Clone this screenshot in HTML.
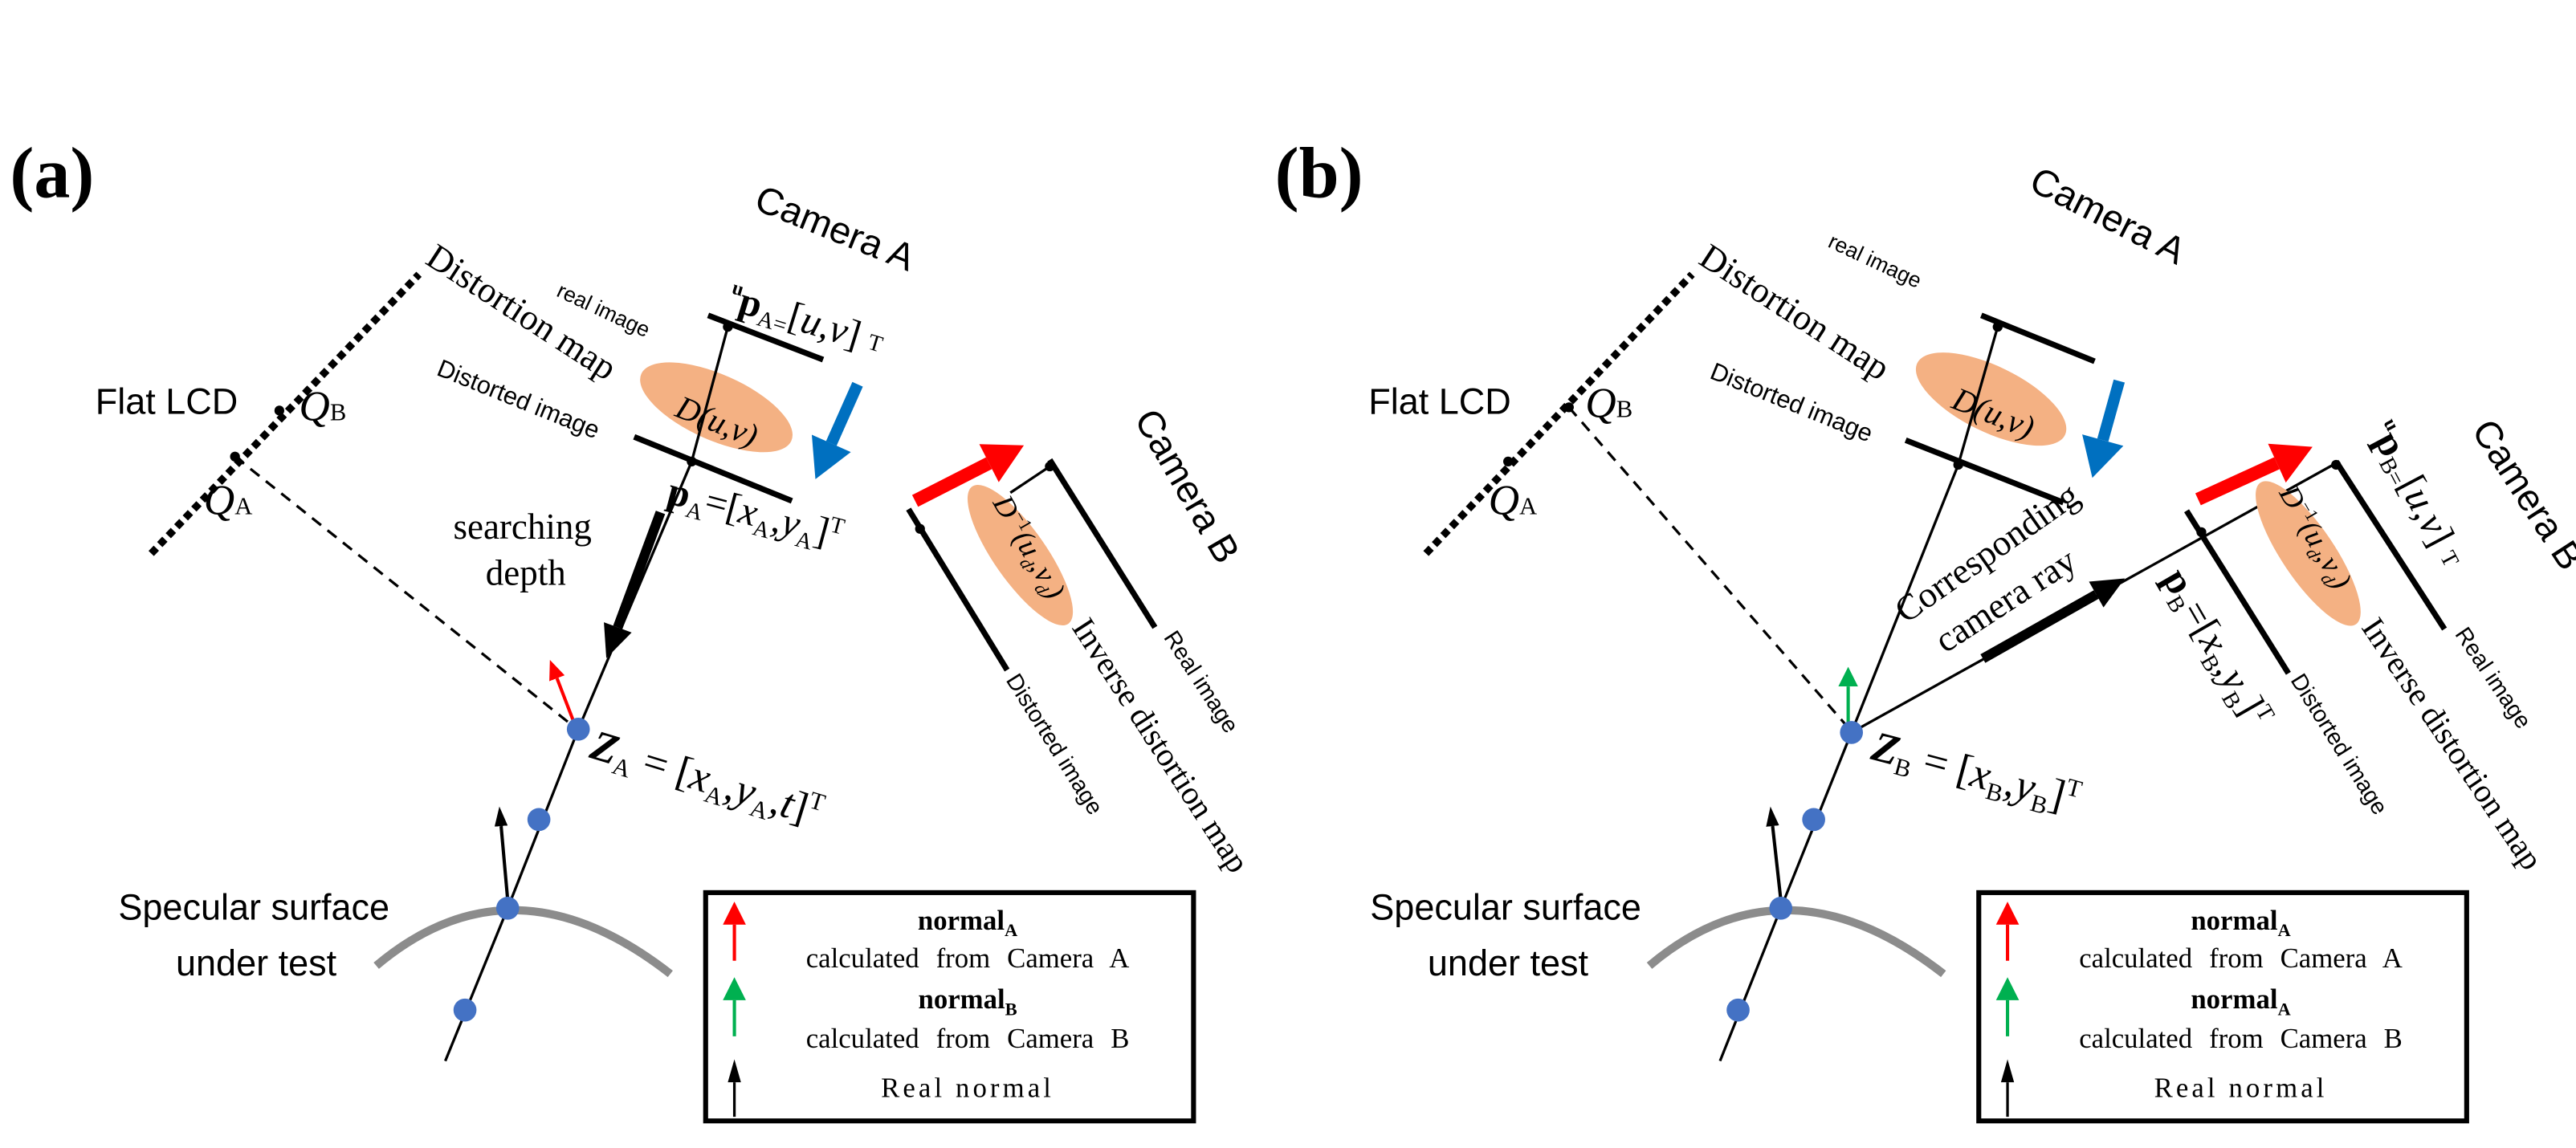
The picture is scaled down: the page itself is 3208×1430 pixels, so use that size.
<!DOCTYPE html>
<html><head><meta charset="utf-8"><style>
html,body{margin:0;padding:0;background:#fff;}
svg{display:block;}
.sans{font-family:"Liberation Sans",sans-serif;}
.serif{font-family:"Liberation Serif",serif;}
</style></head><body>
<svg width="3208" height="1430" viewBox="0 0 1568 699" xmlns="http://www.w3.org/2000/svg">
<defs>
<marker id="mBlue" markerUnits="userSpaceOnUse" markerWidth="26" markerHeight="26" refX="0" refY="12" orient="auto" viewBox="0 0 22 24"><path d="M0,0 L22,12 L0,24z" fill="#0070C0"/></marker>
<marker id="mRed" markerUnits="userSpaceOnUse" markerWidth="26" markerHeight="26" refX="0" refY="12" orient="auto" viewBox="0 0 22 24"><path d="M0,0 L22,12 L0,24z" fill="#FF0000"/></marker>
<marker id="mBlk" markerUnits="userSpaceOnUse" markerWidth="22" markerHeight="18" refX="0" refY="9" orient="auto" viewBox="0 0 20 18"><path d="M0,0 L20,9 L0,18z" fill="#000"/></marker>
<marker id="mRedS" markerUnits="userSpaceOnUse" markerWidth="12" markerHeight="10" refX="0" refY="5" orient="auto" viewBox="0 0 12 10"><path d="M0,0 L12,5 L0,10z" fill="#FF0000"/></marker>
<marker id="mGrnS" markerUnits="userSpaceOnUse" markerWidth="12" markerHeight="12" refX="0" refY="6" orient="auto" viewBox="0 0 12 12"><path d="M0,0 L12,6 L0,12z" fill="#00B050"/></marker>
<marker id="mBlkS" markerUnits="userSpaceOnUse" markerWidth="12" markerHeight="8" refX="0" refY="4" orient="auto" viewBox="0 0 12 8"><path d="M0,0 L12,4 L0,8z" fill="#000"/></marker>
</defs>

<!-- ===================== PANEL (a) ===================== -->
<text x="6" y="120" class="serif" font-size="44" font-weight="bold">(a)</text>

<line x1="92" y1="337" x2="255" y2="167" stroke="#000" stroke-width="4.5" stroke-dasharray="4.5,3"/>
<text x="58" y="252" class="sans" font-size="22">Flat LCD</text>
<circle cx="170" cy="250" r="3" fill="#000"/>
<text x="182" y="256" class="serif" font-size="26" font-style="italic">Q<tspan font-size="15" font-style="normal">B</tspan></text>
<circle cx="143" cy="278" r="3" fill="#000"/>
<text x="124" y="313" class="serif" font-size="26" font-style="italic">Q<tspan font-size="15" font-style="normal">A</tspan></text>
<line x1="143" y1="278" x2="350" y2="443" stroke="#000" stroke-width="1.6" stroke-dasharray="7,5"/>

<text transform="translate(458,127) rotate(22)" class="sans" font-size="23">Camera A</text>
<text transform="translate(338,180) rotate(25)" class="sans" font-size="13">real image</text>
<text transform="translate(258,160) rotate(33)" class="serif" font-size="22">Distortion map</text>
<text transform="translate(265,228) rotate(22)" class="sans" font-size="15">Distorted image</text>
<line x1="431" y1="192" x2="501" y2="219" stroke="#000" stroke-width="3.5"/>
<line x1="386" y1="266" x2="482" y2="305" stroke="#000" stroke-width="3.5"/>
<ellipse cx="436" cy="248" rx="50" ry="20" transform="rotate(24 436 248)" fill="#F4B183"/>
<polyline points="443,199 421,281 352,444 309,553 271,646" fill="none" stroke="#000" stroke-width="1.6"/>
<circle cx="443" cy="199" r="3" fill="#000"/>
<circle cx="421" cy="281" r="3" fill="#000"/>
<text transform="translate(410,253) rotate(22)" class="serif" font-size="20" font-style="italic">D(u,v)</text>
<text transform="translate(442,188) rotate(17)" class="serif" font-size="24"><tspan font-weight="bold" font-size="12" dy="-10">u</tspan><tspan font-weight="bold" dy="10">p</tspan><tspan font-size="14" dy="4">A=</tspan><tspan dy="-4">[</tspan><tspan font-style="italic">u,v</tspan>] <tspan font-size="14" dy="-2">T</tspan></text>
<text transform="translate(405,306) rotate(15)" class="serif" font-size="24"><tspan font-weight="bold">p</tspan><tspan font-size="14" dy="5">A</tspan><tspan dy="-5">=[</tspan><tspan font-style="italic">x</tspan><tspan font-size="14" dy="5">A</tspan><tspan dy="-5">,</tspan><tspan font-style="italic">y</tspan><tspan font-size="14" dy="5">A</tspan><tspan dy="-5">]</tspan><tspan font-size="14" dy="-9">T</tspan></text>
<line x1="522" y1="234" x2="506" y2="270" stroke="#0070C0" stroke-width="7" marker-end="url(#mBlue)"/>

<text x="318" y="328" class="serif" font-size="22" text-anchor="middle">searching</text>
<text x="320" y="356" class="serif" font-size="22" text-anchor="middle">depth</text>
<line x1="402" y1="312" x2="376" y2="382" stroke="#000" stroke-width="6" marker-end="url(#mBlk)"/>

<line x1="349" y1="439" x2="339" y2="413" stroke="#FF0000" stroke-width="2" marker-end="url(#mRedS)"/>
<line x1="309" y1="548" x2="305" y2="503" stroke="#000" stroke-width="2" marker-end="url(#mBlkS)"/>
<path d="M229,588 Q312,518 408,593" fill="none" stroke="#8c8c8c" stroke-width="5"/>
<circle cx="352" cy="444" r="7" fill="#4472C4"/>
<circle cx="328" cy="499" r="7" fill="#4472C4"/>
<circle cx="309" cy="553" r="7" fill="#4472C4"/>
<circle cx="283" cy="615" r="7" fill="#4472C4"/>
<text transform="translate(358,461) rotate(17)" class="serif" font-size="26"><tspan font-weight="bold" font-style="italic">Z</tspan><tspan font-size="15" dy="5">A</tspan><tspan dy="-5"> = [</tspan><tspan font-style="italic">x</tspan><tspan font-size="15" dy="5">A</tspan><tspan dy="-5">,</tspan><tspan font-style="italic">y</tspan><tspan font-size="15" dy="5">A</tspan><tspan dy="-5">,</tspan><tspan font-style="italic">t</tspan>]<tspan font-size="15" dy="-10">T</tspan></text>
<text x="72" y="560" class="sans" font-size="22">Specular surface</text>
<text x="107" y="594" class="sans" font-size="22">under test</text>

<line x1="553" y1="310" x2="613" y2="408" stroke="#000" stroke-width="3.5"/>
<line x1="639" y1="280" x2="703" y2="382" stroke="#000" stroke-width="3.5"/>
<ellipse cx="621" cy="338" rx="51" ry="16" transform="rotate(55 621 338)" fill="#F4B183"/>
<line x1="615" y1="300" x2="639" y2="284" stroke="#000" stroke-width="1.6"/>
<circle cx="639" cy="284" r="3" fill="#000"/>
<circle cx="560" cy="322" r="3" fill="#000"/>
<line x1="557" y1="305" x2="602" y2="282" stroke="#FF0000" stroke-width="8" marker-end="url(#mRed)"/>
<text transform="translate(604,306) rotate(60)" class="serif" font-size="18" font-style="italic">D<tspan font-size="11" dy="-7" font-style="normal">−1</tspan><tspan dy="7">(u</tspan><tspan font-size="11" dy="4">d</tspan><tspan dy="-4">,v</tspan><tspan font-size="11" dy="4">d</tspan><tspan dy="-4">)</tspan></text>
<text transform="translate(690,255) rotate(60)" class="sans" font-size="23">Camera B</text>
<text transform="translate(652,382) rotate(57)" class="serif" font-size="20">Inverse distortion map</text>
<text transform="translate(708,388) rotate(57)" class="sans" font-size="14">Real image</text>
<text transform="translate(612,414) rotate(58)" class="sans" font-size="14">Distorted image</text>

<rect x="429.5" y="543.5" width="297" height="139" fill="#fff" stroke="#000" stroke-width="3"/>
<line x1="447" y1="585" x2="447" y2="563" stroke="#FF0000" stroke-width="2"/>
<path d="M440,563 L447,549 L454,563z" fill="#FF0000"/>
<line x1="447" y1="631" x2="447" y2="609" stroke="#00B050" stroke-width="2"/>
<path d="M440,609 L447,595 L454,609z" fill="#00B050"/>
<line x1="447" y1="680" x2="447" y2="659" stroke="#000" stroke-width="1.6"/>
<path d="M443,659 L447,645 L451,659z" fill="#000"/>
<text x="589" y="566" class="serif" font-size="17" font-weight="bold" text-anchor="middle">normal<tspan font-size="11" dy="4">A</tspan></text>
<text x="589" y="589" class="serif" font-size="17" text-anchor="middle" word-spacing="6">calculated from Camera A</text>
<text x="589" y="614" class="serif" font-size="17" font-weight="bold" text-anchor="middle">normal<tspan font-size="11" dy="4">B</tspan></text>
<text x="589" y="638" class="serif" font-size="17" text-anchor="middle" word-spacing="6">calculated from Camera B</text>
<text x="589" y="668" class="serif" font-size="17" text-anchor="middle" letter-spacing="2">Real normal</text>

<!-- ===================== PANEL (b) ===================== -->
<text x="776" y="120" class="serif" font-size="44" font-weight="bold">(b)</text>

<line x1="868" y1="337" x2="1030" y2="167" stroke="#000" stroke-width="4.5" stroke-dasharray="4.5,3"/>
<text x="833" y="252" class="sans" font-size="22">Flat LCD</text>
<circle cx="955" cy="248" r="3" fill="#000"/>
<text x="965" y="254" class="serif" font-size="26" font-style="italic">Q<tspan font-size="15" font-style="normal">B</tspan></text>
<circle cx="918" cy="281" r="3" fill="#000"/>
<text x="906" y="313" class="serif" font-size="26" font-style="italic">Q<tspan font-size="15" font-style="normal">A</tspan></text>
<line x1="955" y1="248" x2="1125" y2="443" stroke="#000" stroke-width="1.6" stroke-dasharray="7,5"/>

<text transform="translate(1234,115) rotate(27)" class="sans" font-size="23">Camera A</text>
<text transform="translate(1112,150) rotate(25)" class="sans" font-size="13">real image</text>
<text transform="translate(1033,160) rotate(33)" class="serif" font-size="22">Distortion map</text>
<text transform="translate(1040,230) rotate(22)" class="sans" font-size="15">Distorted image</text>
<line x1="1206" y1="192" x2="1275" y2="220" stroke="#000" stroke-width="3.5"/>
<line x1="1160" y1="268" x2="1256" y2="306" stroke="#000" stroke-width="3.5"/>
<ellipse cx="1212" cy="243" rx="50" ry="20" transform="rotate(26 1212 243)" fill="#F4B183"/>
<polyline points="1216,199 1192,283 1127,446 1084,553 1047,646" fill="none" stroke="#000" stroke-width="1.6"/>
<circle cx="1216" cy="199" r="3" fill="#000"/>
<circle cx="1192" cy="283" r="3" fill="#000"/>
<text transform="translate(1187,248) rotate(22)" class="serif" font-size="20" font-style="italic">D(u,v)</text>
<line x1="1290" y1="232" x2="1280" y2="268" stroke="#0070C0" stroke-width="7" marker-end="url(#mBlue)"/>

<text transform="translate(1160,380) rotate(-35)" class="serif" font-size="22">Corresponding</text>
<text transform="translate(1184,398) rotate(-33)" class="serif" font-size="22">camera ray</text>

<line x1="1127" y1="446" x2="1422" y2="282" stroke="#000" stroke-width="1.6"/>
<line x1="1207" y1="401" x2="1276" y2="362" stroke="#000" stroke-width="6" marker-end="url(#mBlk)"/>
<line x1="1125" y1="440" x2="1125" y2="418" stroke="#00B050" stroke-width="2" marker-end="url(#mGrnS)"/>
<line x1="1084" y1="548" x2="1079" y2="503" stroke="#000" stroke-width="2" marker-end="url(#mBlkS)"/>
<path d="M1004,588 Q1087,518 1183,593" fill="none" stroke="#8c8c8c" stroke-width="5"/>
<circle cx="1127" cy="446" r="7" fill="#4472C4"/>
<circle cx="1104" cy="499" r="7" fill="#4472C4"/>
<circle cx="1084" cy="553" r="7" fill="#4472C4"/>
<circle cx="1058" cy="615" r="7" fill="#4472C4"/>
<text transform="translate(1138,462) rotate(15)" class="serif" font-size="26"><tspan font-weight="bold" font-style="italic">Z</tspan><tspan font-size="15" dy="5">B</tspan><tspan dy="-5"> = [</tspan><tspan font-style="italic">x</tspan><tspan font-size="15" dy="5">B</tspan><tspan dy="-5">,</tspan><tspan font-style="italic">y</tspan><tspan font-size="15" dy="5">B</tspan><tspan dy="-5">]</tspan><tspan font-size="15" dy="-10">T</tspan></text>
<text x="834" y="560" class="sans" font-size="22">Specular surface</text>
<text x="869" y="594" class="sans" font-size="22">under test</text>

<line x1="1331" y1="311" x2="1393" y2="410" stroke="#000" stroke-width="3.5"/>
<line x1="1422" y1="281" x2="1488" y2="383" stroke="#000" stroke-width="3.5"/>
<ellipse cx="1405" cy="337" rx="52" ry="16" transform="rotate(56 1405 337)" fill="#F4B183"/>
<circle cx="1422" cy="283" r="3" fill="#000"/>
<circle cx="1340" cy="324" r="3" fill="#000"/>
<line x1="1338" y1="304" x2="1386" y2="282" stroke="#FF0000" stroke-width="8" marker-end="url(#mRed)"/>
<text transform="translate(1387,300) rotate(60)" class="serif" font-size="18" font-style="italic">D<tspan font-size="11" dy="-7" font-style="normal">−1</tspan><tspan dy="7">(u</tspan><tspan font-size="11" dy="4">d</tspan><tspan dy="-4">,v</tspan><tspan font-size="11" dy="4">d</tspan><tspan dy="-4">)</tspan></text>
<text transform="translate(1442,262) rotate(62)" class="serif" font-size="24"><tspan font-weight="bold" font-size="12" dy="-10">u</tspan><tspan font-weight="bold" dy="10">p</tspan><tspan font-size="14" dy="4">B=</tspan><tspan dy="-4">[</tspan><tspan font-style="italic">u,v</tspan>] <tspan font-size="14" dy="-2">T</tspan></text>
<text transform="translate(1316,352) rotate(60)" class="serif" font-size="24"><tspan font-weight="bold">p</tspan><tspan font-size="14" dy="5">B</tspan><tspan dy="-5">=[</tspan><tspan font-style="italic">x</tspan><tspan font-size="14" dy="5">B</tspan><tspan dy="-5">,</tspan><tspan font-style="italic">y</tspan><tspan font-size="14" dy="5">B</tspan><tspan dy="-5">]</tspan><tspan font-size="14" dy="-9">T</tspan></text>
<text transform="translate(1504,262) rotate(57)" class="sans" font-size="23">Camera B</text>
<text transform="translate(1437,382) rotate(56)" class="serif" font-size="20">Inverse distortion map</text>
<text transform="translate(1494,386) rotate(56)" class="sans" font-size="14">Real image</text>
<text transform="translate(1394,414) rotate(58)" class="sans" font-size="14">Distorted image</text>

<rect x="1204.5" y="543.5" width="297" height="139" fill="#fff" stroke="#000" stroke-width="3"/>
<line x1="1222" y1="585" x2="1222" y2="563" stroke="#FF0000" stroke-width="2"/>
<path d="M1215,563 L1222,549 L1229,563z" fill="#FF0000"/>
<line x1="1222" y1="631" x2="1222" y2="609" stroke="#00B050" stroke-width="2"/>
<path d="M1215,609 L1222,595 L1229,609z" fill="#00B050"/>
<line x1="1222" y1="680" x2="1222" y2="659" stroke="#000" stroke-width="1.6"/>
<path d="M1218,659 L1222,645 L1226,659z" fill="#000"/>
<text x="1364" y="566" class="serif" font-size="17" font-weight="bold" text-anchor="middle">normal<tspan font-size="11" dy="4">A</tspan></text>
<text x="1364" y="589" class="serif" font-size="17" text-anchor="middle" word-spacing="6">calculated from Camera A</text>
<text x="1364" y="614" class="serif" font-size="17" font-weight="bold" text-anchor="middle">normal<tspan font-size="11" dy="4">A</tspan></text>
<text x="1364" y="638" class="serif" font-size="17" text-anchor="middle" word-spacing="6">calculated from Camera B</text>
<text x="1364" y="668" class="serif" font-size="17" text-anchor="middle" letter-spacing="2">Real normal</text>
</svg>
</body></html>
